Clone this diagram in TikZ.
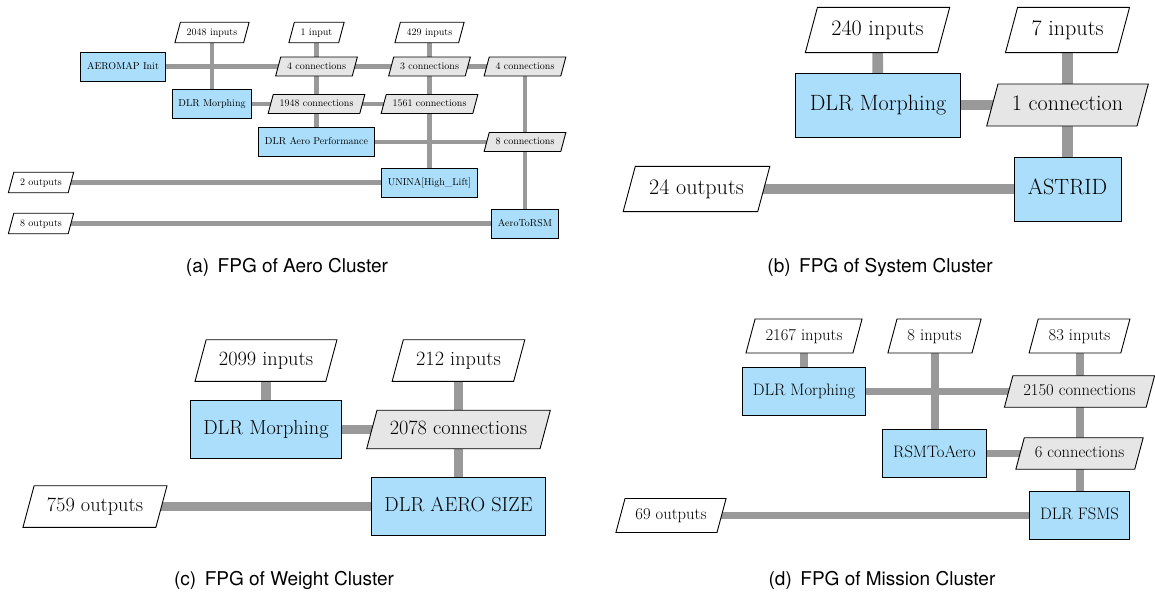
\documentclass[tikz,border=0pt]{standalone}
\usepackage{fontspec}
\newfontfamily\capfont{TeX Gyre Heros}
\usetikzlibrary{shapes.geometric,backgrounds}
\definecolor{fpgblue}{RGB}{170,222,250}
\definecolor{fpggray}{RGB}{230,230,230}
\definecolor{fpgline}{RGB}{153,153,153}
\newcommand\fpgscale[1]{%
 \pgfmathsetmacro\fpgFS{10*#1}%
 \pgfmathsetmacro\fpgBS{12*#1}%
 \pgfmathsetmacro\fpgTH{7*#1}%
 \pgfmathsetmacro\fpgTD{2*#1}%
 \pgfmathsetmacro\fpgXS{6.3*#1}%
 \pgfmathsetmacro\fpgBY{10*#1}%
 \pgfmathsetmacro\fpgIY{5.75*#1}%
 \pgfmathsetmacro\fpgCY{5*#1}%
 \pgfmathsetmacro\fpgLW{4.8*#1}}
\tikzset{
 fpgtext/.style={font=\fontsize{\fpgFS}{\fpgBS}\selectfont, text height=\fpgTH pt, text depth=\fpgTD pt, inner xsep=\fpgXS pt, draw=black, line width=0.9pt},
 fpgbox/.style={fpgtext, rectangle, fill=fpgblue, inner ysep=\fpgBY pt},
 fpgpara/.style={fpgtext, trapezium, trapezium left angle=75, trapezium right angle=105},
 fpgio/.style={fpgpara, fill=white, inner ysep=\fpgIY pt},
 fpgconn/.style={fpgpara, fill=fpggray, inner ysep=\fpgCY pt},
 fpglink/.style={draw=fpgline, line width=\fpgLW pt},
 fpgcap/.style={font=\capfont\fontsize{19}{23}\selectfont, anchor=base, inner sep=0pt}
}
\begin{document}
\begin{tikzpicture}[x=1pt,y=-1pt]
\useasboundingbox (0,0) rectangle (1155,595);
% ---------- (a) Aero cluster
\begin{scope}
\fpgscale{1}
\node[fpgio] (a2048) at (212,32.5) {2048 inputs};
\node[fpgio] (a1in) at (316.5,32.5) {1 input};
\node[fpgio] (a429) at (429.5,32.5) {429 inputs};
\node[fpgbox] (aaero) at (123,66.5) {AEROMAP Init};
\node[fpgconn] (ac4) at (316.5,66.5) {4 connections};
\node[fpgconn] (ac3) at (429.5,66.5) {3 connections};
\node[fpgconn] (ac4b) at (525,66.5) {4 connections};
\node[fpgbox] (amorph) at (212,104) {DLR Morphing};
\node[fpgconn] (ac1948) at (316.5,104) {1948 connections};
\node[fpgconn] (ac1561) at (429.5,104) {1561 connections};
\node[fpgbox] (aperf) at (316.5,142) {DLR Aero Performance};
\node[fpgconn] (ac8) at (525,142) {8 connections};
\node[fpgio] (aout2) at (41,182.5) {2 outputs};
\node[fpgbox] (aunina) at (429.5,182.5) {UNINA[High\_Lift]};
\node[fpgio] (aout8) at (41,223.5) {8 outputs};
\node[fpgbox] (arsm) at (525,223.5) {AeroToRSM};
\begin{pgfonlayer}{background}
\draw[fpglink] (aaero.center) -- (ac4.center) -- (ac3.center) -- (ac4b.center);
\draw[fpglink] (a2048.center) -- (amorph.center);
\draw[fpglink] (a1in.center) -- (ac4.center) -- (ac1948.center) -- (aperf.center);
\draw[fpglink] (a429.center) -- (ac3.center) -- (ac1561.center) -- (aunina.center);
\draw[fpglink] (ac4b.center) -- (ac8.center) -- (arsm.center);
\draw[fpglink] (amorph.center) -- (ac1948.center) -- (ac1561.center);
\draw[fpglink] (aperf.center) -- (ac8.center);
\draw[fpglink] (aout2.center) -- (aunina.center);
\draw[fpglink] (aout8.center) -- (arsm.center);
\end{pgfonlayer}
\end{scope}
% ---------- (b) System cluster
\begin{scope}
\fpgscale{2.21}
\node[fpgio] (b240) at (877.5,30) {240 inputs};
\node[fpgio] (b7) at (1067.5,30) {7 inputs};
\node[fpgbox] (bmorph) at (878,105) {DLR Morphing};
\node[fpgconn] (bc1) at (1067.5,105) {1 connection};
\node[fpgbox] (bastrid) at (1067.5,189) {ASTRID};
\node[fpgio] (bout) at (696.5,189) {24 outputs};
\begin{pgfonlayer}{background}
\draw[fpglink] (b240.center) -- (bmorph.center);
\draw[fpglink] (b7.center) -- (bc1.center) -- (bastrid.center);
\draw[fpglink] (bmorph.center) -- (bc1.center);
\draw[fpglink] (bout.center) -- (bastrid.center);
\end{pgfonlayer}
\end{scope}
% ---------- (c) Weight cluster
\begin{scope}
\fpgscale{2.03}
\node[fpgio] (c2099) at (266,360.5) {2099 inputs};
\node[fpgio] (c212) at (458.5,360.5) {212 inputs};
\node[fpgbox] (cmorph) at (266,429.5) {DLR Morphing};
\node[fpgconn] (cc2078) at (458.5,429.5) {2078 connections};
\node[fpgbox] (csize) at (458.5,506.5) {DLR AERO SIZE};
\node[fpgio] (cout) at (95,506.5) {759 outputs};
\begin{pgfonlayer}{background}
\draw[fpglink] (c2099.center) -- (cmorph.center);
\draw[fpglink] (c212.center) -- (cc2078.center) -- (csize.center);
\draw[fpglink] (cmorph.center) -- (cc2078.center);
\draw[fpglink] (cout.center) -- (csize.center);
\end{pgfonlayer}
\end{scope}
% ---------- (d) Mission cluster
\begin{scope}
\fpgscale{1.66}
\node[fpgio] (d2167) at (804,336) {2167 inputs};
\node[fpgio] (d8) at (934.5,336) {8 inputs};
\node[fpgio] (d83) at (1079.5,336) {83 inputs};
\node[fpgbox] (dmorph) at (804,391.5) {DLR Morphing};
\node[fpgconn] (dc2150) at (1079.5,391.5) {2150 connections};
\node[fpgbox] (drsm) at (934.5,453.5) {RSMToAero};
\node[fpgconn] (dc6) at (1079.5,453.5) {6 connections};
\node[fpgbox] (dfsms) at (1079.5,515.5) {DLR FSMS};
\node[fpgio] (dout) at (671,515.5) {69 outputs};
\begin{pgfonlayer}{background}
\draw[fpglink] (d2167.center) -- (dmorph.center);
\draw[fpglink] (dmorph.center) -- (dc2150.center);
\draw[fpglink] (d8.center) -- (drsm.center);
\draw[fpglink] (d83.center) -- (dc2150.center) -- (dc6.center) -- (dfsms.center);
\draw[fpglink] (drsm.center) -- (dc6.center);
\draw[fpglink] (dout.center) -- (dfsms.center);
\end{pgfonlayer}
\end{scope}
% ---------- captions
\node[fpgcap] (capa) at (287,272) {(a)\hskip0.45em FPG of Aero Cluster};
\node[fpgcap] (capb) at (880,272) {(b)\hskip0.45em FPG of System Cluster};
\node[fpgcap] (capc) at (284,585) {(c)\hskip0.45em FPG of Weight Cluster};
\node[fpgcap] (capd) at (882,585) {(d)\hskip0.45em FPG of Mission Cluster};
\end{tikzpicture}
\end{document}
